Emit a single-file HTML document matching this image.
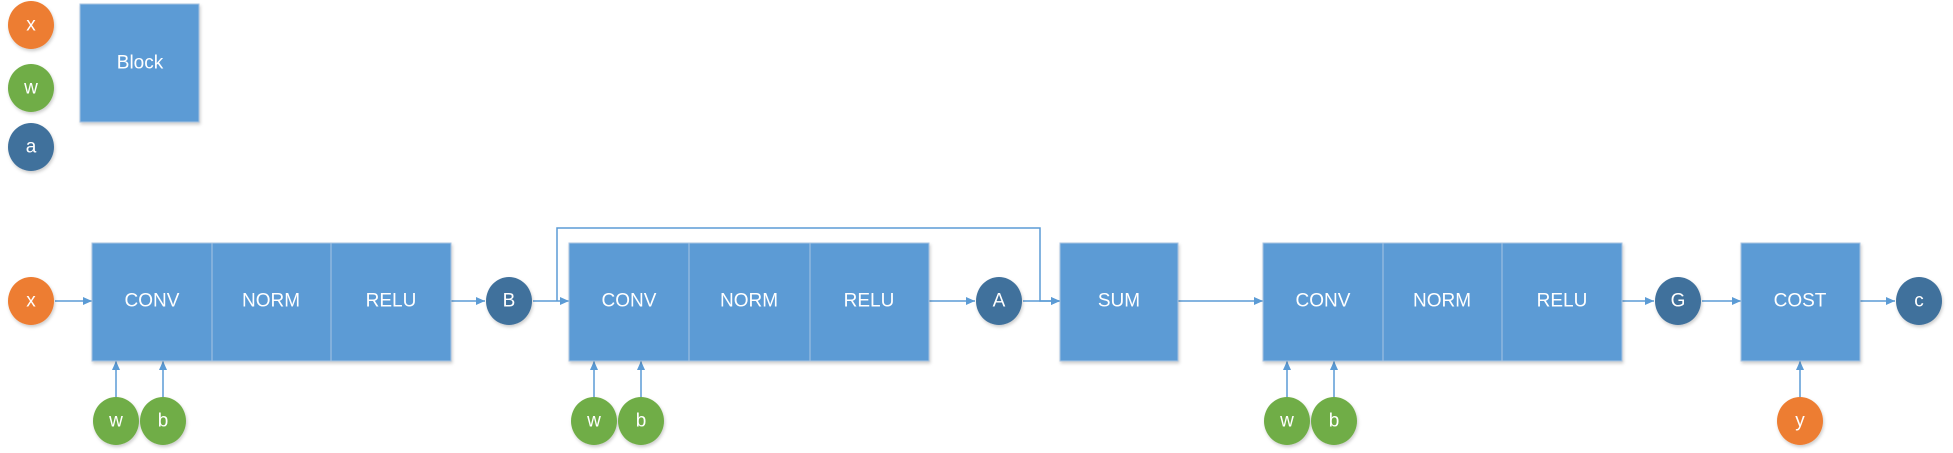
<!DOCTYPE html>
<html><head><meta charset="utf-8"><style>html,body{margin:0;padding:0;background:#fff}svg{display:block}text{font-family:"Liberation Sans",sans-serif;fill:#fff;font-size:19px;text-anchor:middle;dominant-baseline:central}</style></head><body>
<svg width="1953" height="453" viewBox="0 0 1953 453" xmlns="http://www.w3.org/2000/svg">
<defs><marker id="ar" markerWidth="10" markerHeight="10" refX="9" refY="5" orient="auto" markerUnits="userSpaceOnUse"><path d="M0,1 L9,5 L0,9 z" fill="#5b9bd5"/></marker>
<filter id="sh" x="-20%" y="-20%" width="150%" height="150%"><feDropShadow dx="1" dy="2" stdDeviation="1.5" flood-color="#000" flood-opacity="0.2"/></filter></defs>
<g stroke="#5b9bd5" stroke-width="1.5" fill="none">
<line x1="55" y1="301" x2="92" y2="301" marker-end="url(#ar)"/>
<line x1="451" y1="301" x2="485" y2="301" marker-end="url(#ar)"/>
<line x1="533" y1="301" x2="569" y2="301" marker-end="url(#ar)"/>
<polyline points="557,301 557,228 1040,228 1040,301 1060,301" marker-end="url(#ar)"/>
<line x1="929" y1="301" x2="975" y2="301" marker-end="url(#ar)"/>
<line x1="1023" y1="301" x2="1060" y2="301" marker-end="url(#ar)"/>
<line x1="1178" y1="301" x2="1263" y2="301" marker-end="url(#ar)"/>
<line x1="1622" y1="301" x2="1654" y2="301" marker-end="url(#ar)"/>
<line x1="1702" y1="301" x2="1741" y2="301" marker-end="url(#ar)"/>
<line x1="1860" y1="301" x2="1895" y2="301" marker-end="url(#ar)"/>
<line x1="116" y1="397" x2="116" y2="361" marker-end="url(#ar)"/>
<line x1="163" y1="397" x2="163" y2="361" marker-end="url(#ar)"/>
<line x1="594" y1="397" x2="594" y2="361" marker-end="url(#ar)"/>
<line x1="641" y1="397" x2="641" y2="361" marker-end="url(#ar)"/>
<line x1="1287" y1="397" x2="1287" y2="361" marker-end="url(#ar)"/>
<line x1="1334" y1="397" x2="1334" y2="361" marker-end="url(#ar)"/>
<line x1="1800" y1="397" x2="1800" y2="361" marker-end="url(#ar)"/>
</g>
<g fill="#5b9bd5" stroke="#a9c4e2" stroke-width="1" filter="url(#sh)">
<rect x="80" y="4" width="119" height="118"/>
<rect x="92" y="243" width="120" height="118"/><rect x="212" y="243" width="119" height="118"/><rect x="331" y="243" width="120" height="118"/>
<rect x="569" y="243" width="120" height="118"/><rect x="689" y="243" width="121" height="118"/><rect x="810" y="243" width="119" height="118"/>
<rect x="1060" y="243" width="118" height="118"/>
<rect x="1263" y="243" width="120" height="118"/><rect x="1383" y="243" width="119" height="118"/><rect x="1502" y="243" width="120" height="118"/>
<rect x="1741" y="243" width="119" height="118"/>
</g>
<g filter="url(#sh)">
<ellipse cx="31" cy="25" rx="23" ry="24" fill="#ed7d31"/>
<ellipse cx="31" cy="88" rx="23" ry="24" fill="#70ad47"/>
<ellipse cx="31" cy="147" rx="23" ry="24" fill="#41719c"/>
<ellipse cx="31" cy="301" rx="23" ry="24" fill="#ed7d31"/>
<ellipse cx="509" cy="301" rx="23" ry="24" fill="#41719c"/>
<ellipse cx="999" cy="301" rx="23" ry="24" fill="#41719c"/>
<ellipse cx="1678" cy="301" rx="23" ry="24" fill="#41719c"/>
<ellipse cx="1919" cy="301" rx="23" ry="24" fill="#41719c"/>
<ellipse cx="116" cy="421" rx="23" ry="24" fill="#70ad47"/><ellipse cx="163" cy="421" rx="23" ry="24" fill="#70ad47"/>
<ellipse cx="594" cy="421" rx="23" ry="24" fill="#70ad47"/><ellipse cx="641" cy="421" rx="23" ry="24" fill="#70ad47"/>
<ellipse cx="1287" cy="421" rx="23" ry="24" fill="#70ad47"/><ellipse cx="1334" cy="421" rx="23" ry="24" fill="#70ad47"/>
<ellipse cx="1800" cy="421" rx="23" ry="24" fill="#ed7d31"/>
</g>
<text x="31" y="25">x</text><text x="31" y="88">w</text><text x="31" y="147">a</text>
<text x="140" y="63">Block</text>
<text x="31" y="301">x</text>
<text x="152" y="301">CONV</text><text x="271" y="301">NORM</text><text x="391" y="301">RELU</text>
<text x="509" y="301">B</text>
<text x="629" y="301">CONV</text><text x="749" y="301">NORM</text><text x="869" y="301">RELU</text>
<text x="999" y="301">A</text>
<text x="1119" y="301">SUM</text>
<text x="1323" y="301">CONV</text><text x="1442" y="301">NORM</text><text x="1562" y="301">RELU</text>
<text x="1678" y="301">G</text><text x="1800" y="301">COST</text><text x="1919" y="301">c</text>
<text x="116" y="421">w</text><text x="163" y="421">b</text>
<text x="594" y="421">w</text><text x="641" y="421">b</text>
<text x="1287" y="421">w</text><text x="1334" y="421">b</text>
<text x="1800" y="421">y</text>
</svg>
</body></html>
